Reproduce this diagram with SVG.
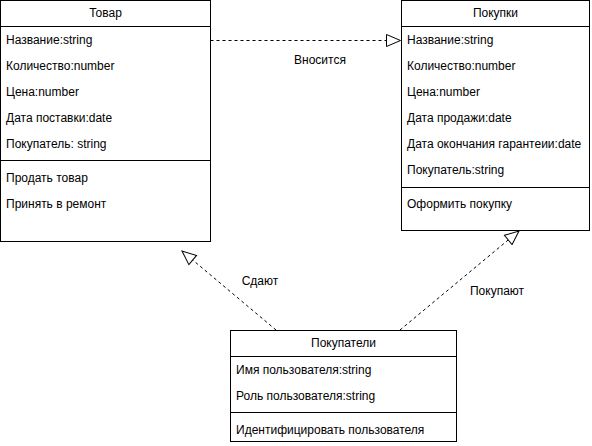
<svg xmlns="http://www.w3.org/2000/svg" width="592" height="446" viewBox="0 0 592 446">
<style>
.box{fill:#fff;stroke:#000;stroke-width:1}
.ln{stroke:#000;stroke-width:1}
text{font-family:"Liberation Sans",Arial,sans-serif;font-size:12px;fill:#000}
.c{text-anchor:middle}
.edge{fill:none;stroke:#000;stroke-width:1;stroke-dasharray:3 3;marker-end:url(#tri)}
</style>
<defs>
<marker id="tri" viewBox="0 0 16 14" refX="15" refY="7" markerWidth="16" markerHeight="14" markerUnits="userSpaceOnUse" orient="auto">
<path d="M1,1 L15,7 L1,13 Z" fill="#fff" stroke="#000" stroke-width="1"/>
</marker>
</defs>
<g id="connectors">
<path class="edge" d="M210.5,40.5 L400.5,40.5"/>
<text class="c" x="320" y="64">Вносится</text>
<path class="edge" d="M276,330 L182,251"/>
<text class="c" x="260" y="285">Сдают</text>
<path class="edge" d="M400,330 L519,231"/>
<text class="c" x="497" y="295">Покупают</text>
</g>
<g id="tovar">
<rect class="box" x="0.5" y="0.5" width="210" height="241"/>
<line class="ln" x1="0.5" y1="26.5" x2="210.5" y2="26.5"/>
<line class="ln" x1="0.5" y1="160.5" x2="210.5" y2="160.5"/>
<text class="c" x="105.5" y="17">Товар</text>
<text x="6" y="44">Название:string</text>
<text x="6" y="70">Количество:number</text>
<text x="6" y="96">Цена:number</text>
<text x="6" y="122">Дата поставки:date</text>
<text x="6" y="148">Покупатель: string</text>
<text x="6" y="182">Продать товар</text>
<text x="6" y="208">Принять в ремонт</text>
</g>
<g id="pokupki">
<rect class="box" x="401.5" y="0.5" width="188" height="230"/>
<line class="ln" x1="401.5" y1="26.5" x2="589.5" y2="26.5"/>
<line class="ln" x1="401.5" y1="187.5" x2="589.5" y2="187.5"/>
<text class="c" x="495.5" y="17">Покупки</text>
<text x="407" y="44">Название:string</text>
<text x="407" y="70">Количество:number</text>
<text x="407" y="96">Цена:number</text>
<text x="407" y="122">Дата продажи:date</text>
<text x="407" y="148">Дата окончания гарантеии:date</text>
<text x="407" y="174">Покупатель:string</text>
<text x="407" y="208">Оформить покупку</text>
</g>
<g id="pokupateli">
<rect class="box" x="230.5" y="330.5" width="226" height="111"/>
<line class="ln" x1="230.5" y1="356.5" x2="456.5" y2="356.5"/>
<line class="ln" x1="230.5" y1="412.5" x2="456.5" y2="412.5"/>
<text class="c" x="343.5" y="347">Покупатели</text>
<text x="236" y="374">Имя пользователя:string</text>
<text x="236" y="400">Роль пользователя:string</text>
<text x="236" y="434">Идентифицировать пользователя</text>
</g>
</svg>
